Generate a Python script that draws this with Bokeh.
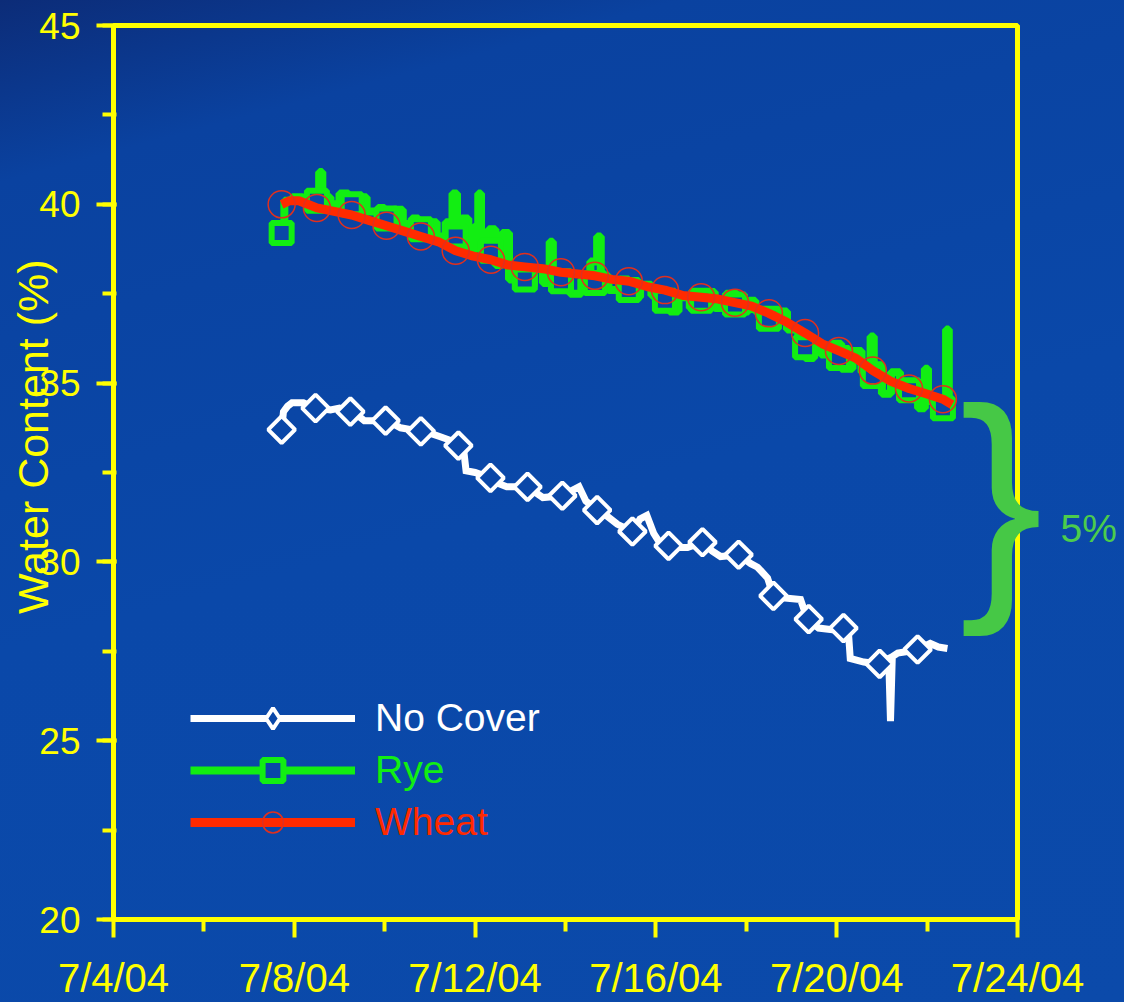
import math
from bokeh.plotting import figure
from bokeh.models import (Range1d, FixedTicker, SingleIntervalTicker, Legend, LegendItem,
                          LinearAxis)
from bokeh.embed import file_html
from bokeh.resources import INLINE

# ---------------- data ----------------
x_tick_days = [4, 8, 12, 16, 20, 24]
x_tick_labels = ["7/4/04", "7/8/04", "7/12/04", "7/16/04", "7/20/04", "7/24/04"]
x_minor_days = [6, 10, 14, 18, 22]

# Wheat (July day number, water content %)
wheat_day = [7.72, 7.9, 8.1, 8.5, 8.88, 9.27, 9.65, 10.04, 10.42, 10.8, 11.19, 11.57, 11.96,
             12.35, 12.73, 13.1, 13.5, 13.9, 14.27, 14.65, 15.03, 15.4, 15.8, 16.2, 16.6,
             17.0, 17.38, 17.75, 18.12, 18.5, 18.9, 19.3, 19.68, 20.05, 20.42, 20.8, 21.2,
             21.6, 21.98, 22.35, 22.55]
wheat_wc = [40.0, 40.1, 40.1, 39.9, 39.8, 39.7, 39.55, 39.4, 39.25, 39.1, 38.95, 38.7, 38.55,
            38.45, 38.3, 38.25, 38.2, 38.1, 38.05, 38.0, 37.9, 37.85, 37.7, 37.6, 37.45,
            37.4, 37.35, 37.25, 37.15, 36.95, 36.7, 36.4, 36.1, 35.9, 35.7, 35.35, 35.05,
            34.85, 34.7, 34.55, 34.4]
wheat_mark_day = [7.72, 8.5, 9.27, 10.04, 10.8, 11.57, 12.35, 13.1, 13.9, 14.65, 15.4, 16.2,
                  17.0, 17.75, 18.5, 19.3, 20.05, 20.8, 21.6, 22.35]
wheat_mark_wc = [40.0, 39.9, 39.7, 39.4, 39.1, 38.7, 38.45, 38.25, 38.1, 38.0, 37.85, 37.6,
                 37.4, 37.25, 36.95, 36.4, 35.9, 35.35, 34.85, 34.55]

# Rye
rye_day = [7.72, 7.78, 7.95, 8.2, 8.4, 8.55, 8.62, 8.8, 9.0, 9.2, 9.45, 9.6, 9.85, 10.0, 10.2,
           10.4, 10.6, 10.75, 10.95, 11.15, 11.35, 11.5, 11.6, 11.7, 11.85, 12.0, 12.07, 12.13,
           12.3, 12.45, 12.6, 12.75, 12.9, 13.1, 13.3, 13.5, 13.65, 13.72, 13.9, 14.1, 14.35,
           14.55, 14.7, 14.78, 14.95, 15.2, 15.4, 15.65, 15.9, 16.1, 16.3, 16.5, 16.75, 17.0,
           17.3, 17.55, 17.8, 18.05, 18.2, 18.45, 18.7, 18.9, 19.15, 19.3, 19.5, 19.65, 19.9,
           20.1, 20.35, 20.55, 20.75, 20.82, 21.0, 21.2, 21.4, 21.6, 21.8, 21.95, 22.02, 22.2,
           22.35, 22.42, 22.48, 22.55]
rye_wc = [39.2, 40.1, 40.2, 40.05, 40.3, 40.9, 40.2, 40.0, 40.3, 39.95, 40.2, 39.8, 39.9, 39.5,
          39.85, 39.45, 39.6, 39.2, 39.5, 39.1, 39.5, 40.3, 38.9, 39.6, 38.7, 39.4, 40.3, 38.8,
          39.3, 38.3, 39.2, 37.9, 38.2, 37.7, 38.2, 37.8, 38.95, 37.7, 38.0, 37.5, 37.9,
          38.4, 39.1, 38.0, 37.6, 37.9, 37.4, 37.75, 37.45, 37.55, 37.0, 37.4, 37.1, 37.55,
          37.1, 37.5, 37.0, 37.3, 37.0, 36.6, 37.0, 36.5, 36.3, 35.7, 36.1, 35.8, 36.1,
          35.4, 35.9, 35.3, 36.3, 35.5, 34.7, 35.3, 34.8, 35.0, 34.3, 35.4, 34.5, 34.2,
          34.6, 36.5, 34.2, 34.2]
rye_mark_day = [7.72, 8.5, 9.27, 10.04, 10.8, 11.57, 12.35, 13.1, 13.9, 14.65, 15.4, 16.2,
                17.0, 17.75, 18.5, 19.3, 20.05, 20.8, 21.6, 22.35]
rye_mark_wc = [39.2, 40.1, 40.0, 39.6, 39.3, 39.1, 38.7, 37.9, 37.85, 37.8, 37.6, 37.3,
               37.3, 37.2, 36.8, 36.0, 35.7, 35.2, 34.8, 34.3]

# No Cover
nocover_day = [7.72, 7.76, 7.85, 7.95, 8.2, 8.47, 8.8, 9.0, 9.24, 9.4, 9.55, 10.02, 10.2, 10.35,
               10.8, 11.0, 11.23, 11.45, 11.63, 11.75, 11.8, 12.0, 12.34, 12.5, 12.7, 13.16,
               13.5, 13.93, 14.15, 14.3, 14.45, 14.7, 14.9, 15.15, 15.48, 15.65, 15.8, 15.95,
               16.05, 16.28, 16.5, 16.7, 17.03, 17.25, 17.43, 17.83, 18.1, 18.25, 18.47, 18.6,
               18.8, 19.2, 19.35, 19.6, 19.9, 20.2, 20.25, 20.3, 20.6, 20.9, 21.15, 21.19,
               21.23, 21.35, 21.6, 21.79, 22.07, 22.25, 22.45]
nocover_wc = [33.7, 34.2, 34.35, 34.45, 34.45, 34.3, 34.25, 34.3, 34.2, 34.1, 33.95, 33.95,
              33.85, 33.75, 33.65, 33.6, 33.5, 33.4, 33.25, 33.1, 32.55, 32.5, 32.35, 32.2,
              32.1, 32.1, 31.8, 31.85, 32.0, 32.1, 31.7, 31.45, 31.3, 31.05, 30.85, 31.2,
              31.3, 30.8, 30.6, 30.45, 30.4, 30.4, 30.55, 30.3, 30.15, 30.2, 29.95, 29.85,
              29.55, 29.05, 29.0, 28.95, 28.4, 28.15, 28.1, 28.15, 28.2, 27.3, 27.2, 27.15,
              27.3, 25.55, 27.35, 27.45, 27.5, 27.55, 27.72, 27.62, 27.58]
nocover_mark_day = [7.72, 8.47, 9.24, 10.02, 10.8, 11.63, 12.34, 13.16, 13.93, 14.7, 15.48,
                    16.28, 17.03, 17.83, 18.6, 19.38, 20.15, 20.95, 21.79]
nocover_mark_wc = [33.7, 34.3, 34.2, 33.95, 33.65, 33.25, 32.35, 32.1, 31.85, 31.45, 30.85,
                   30.45, 30.55, 30.2, 29.05, 28.4, 28.15, 27.15, 27.55]

y_title = "Water Content (%)"
brace_note = "5%"

# ---------------- style ----------------
BG = "#0a47a8"
YEL = "#ffff00"
GREEN = "#12ee12"
RED = "#ff2a00"
WHITE = "#ffffff"
FONT = "Liberation Sans"
NB = "\u00a0"

p = figure(width=1124, height=1002, output_backend="svg", toolbar_location=None,
           x_range=Range1d(4, 24), y_range=Range1d(20, 45),
           min_border_left=113, min_border_right=107, min_border_top=25, min_border_bottom=77)
p.background_fill_color = None
p.border_fill_color = None
p.styles = {"background": "linear-gradient(165deg, #0c2c78 0%, #0a42a0 14%, #0a48a9 50%, #0b4aaa 100%)"}
p.outline_line_color = YEL
p.outline_line_width = 5
p.xgrid.visible = False
p.ygrid.visible = False

xa = p.xaxis[0]
xa.ticker = FixedTicker(ticks=x_tick_days, minor_ticks=x_minor_days)
xa.major_label_overrides = {d: lab for d, lab in zip(x_tick_days, x_tick_labels)}
xa.major_tick_out = 18
xa.major_tick_in = 0
xa.minor_tick_out = 12
xa.minor_tick_in = 0
xa.major_label_standoff = 18

ya = p.yaxis[0]
ya.ticker = SingleIntervalTicker(interval=5, num_minor_ticks=2)
ya.major_tick_out = 17
ya.major_tick_in = 3
ya.minor_tick_out = 11
ya.minor_tick_in = 3
ya.major_label_standoff = 16
ya.axis_label = NB * 6 + y_title
ya.axis_label_standoff = -21
ya.axis_label_text_color = YEL
ya.axis_label_text_font = FONT
ya.axis_label_text_font_style = "normal"
ya.axis_label_text_font_size = "43px"

for ax in (xa, ya):
    ax.axis_line_color = YEL
    ax.axis_line_width = 5
    ax.major_tick_line_color = YEL
    ax.major_tick_line_width = 4
    ax.minor_tick_line_color = YEL
    ax.minor_tick_line_width = 4
    ax.major_label_text_color = YEL
    ax.major_label_text_font = FONT
ya.major_label_text_font_size = "37px"
xa.major_label_text_font_size = "40px"


def label_axis(text, size, color, standoff, line_height):
    ax = LinearAxis(ticker=FixedTicker(ticks=[]), axis_line_alpha=0,
                    major_tick_out=0, major_tick_in=0, minor_tick_out=0, minor_tick_in=0,
                    major_label_text_font_size="0px", axis_label=text,
                    axis_label_orientation="horizontal", axis_label_standoff=standoff,
                    axis_label_text_color=color, axis_label_text_font=FONT,
                    axis_label_text_font_style="normal", axis_label_text_font_size=size,
                    axis_label_text_line_height=line_height)
    p.add_layout(ax, "right")
    return ax


label_axis(NB + "\n}", "250px", "#46c846", -58, 0.176)
label_axis(NB + "\n" + brace_note, "39px", "#4ccc4c", 15, 2.6)

# ---------------- series ----------------
nc_line = p.line(nocover_day, nocover_wc, line_color=WHITE, line_width=7, line_join="miter")
# legend key: drawn beneath the rotated squares (fully covered by them), used for the legend
nc_key = p.scatter(nocover_mark_day, nocover_mark_wc, marker="diamond", size=18,
                   line_color=WHITE, line_width=4, fill_color=BG)
nc_mark = p.scatter(nocover_mark_day, nocover_mark_wc, marker="square", angle=math.pi / 4,
                    size=19, line_color=WHITE, line_width=4, fill_color=BG)

rye_line = p.step(rye_day, rye_wc, mode="after", line_color=GREEN, line_width=8)
rye_mark = p.scatter(rye_mark_day, rye_mark_wc, marker="square", size=20,
                     line_color=GREEN, line_width=6, fill_color=BG)

wheat_line = p.line(wheat_day, wheat_wc, line_color=RED, line_width=9, line_join="round")
wheat_mark = p.scatter(wheat_mark_day, wheat_mark_wc, marker="circle", size=27,
                       line_color="#e0301e", line_width=1.5, fill_color=None)

# ---------------- legends (one per colour) ----------------
leg_specs = [("No Cover", [nc_line, nc_key], WHITE, 175),
             ("Rye", [rye_line, rye_mark], GREEN, 123),
             ("Wheat", [wheat_line, wheat_mark], RED, 71)]
for lab, rends, col, ypos in leg_specs:
    lg = Legend(items=[LegendItem(label=lab, renderers=rends)], location=(77, ypos),
                glyph_width=165, glyph_height=52, label_height=52, spacing=0, padding=0,
                margin=0, label_standoff=20, background_fill_alpha=0, border_line_alpha=0,
                label_text_font=FONT, label_text_font_size="39px", label_text_color=col)
    p.add_layout(lg, "center")

open("out.html", "w").write(file_html(p, INLINE, title="Water Content"))
